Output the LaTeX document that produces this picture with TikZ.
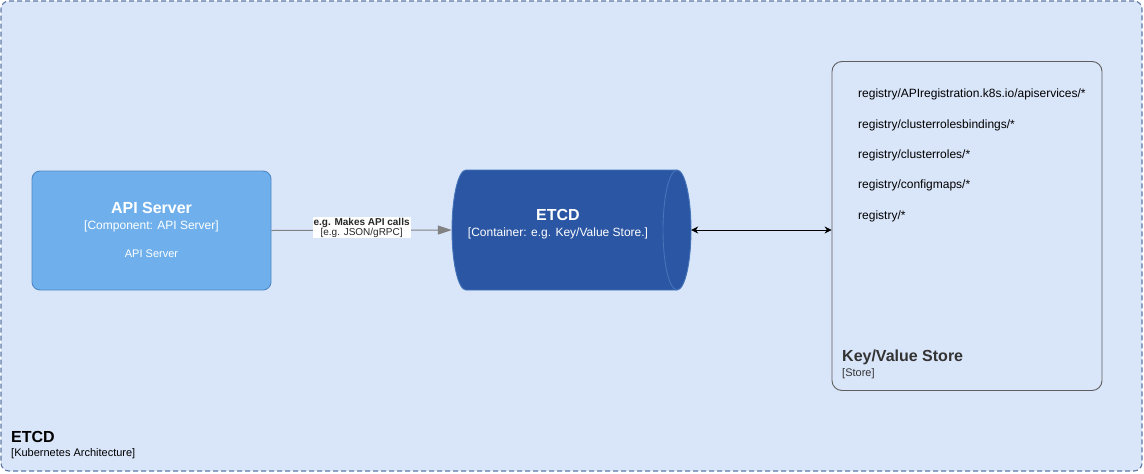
\documentclass[tikz,border=0pt]{standalone}
\usepackage{fontspec}
\setmainfont{Liberation Sans}
\usetikzlibrary{arrows.meta}
\definecolor{areafill}{HTML}{D9E5F9}
\definecolor{arealine}{HTML}{5D78A6}
\definecolor{compfill}{HTML}{6FB0EC}
\definecolor{compline}{HTML}{4D89C7}
\definecolor{contfill}{HTML}{2B56A3}
\definecolor{contline}{HTML}{4474BA}
\definecolor{storeline}{HTML}{5E5E5E}
\definecolor{relline}{HTML}{828282}
\newcommand{\fsz}[1]{\fontsize{#1}{#1}\selectfont}
\begin{document}
\begin{tikzpicture}[x=1pt,y=-1pt,
    txt/.style={inner sep=0pt},
    wtitle/.style={txt,text=white,font=\fsz{16}\bfseries},
    wsub/.style={txt,text=white,font=\fsz{12}}]
    \useasboundingbox (0,0) rectangle (1144,474);
    %% boundary
    \node[draw=arealine,fill=areafill,dash pattern=on 5pt off 3pt,line width=1.1pt,
        rounded corners=8pt,minimum width=1141pt,minimum height=470pt] (etcdarea) at (571.5,236) {};
    \node[txt,anchor=west,font=\fsz{16}\bfseries] (areatitle) at (11,437) {ETCD};
    \node[txt,anchor=west,font=\fsz{11}] (areatype) at (11,454) {[Kubernetes Architecture]};
    %% api server
    \node[draw=compline,fill=compfill,line width=0.9pt,rounded corners=8pt,
        minimum width=239pt,minimum height=119pt] (apisrv) at (151.5,230.5) {};
    \node[wtitle] (apititle) at (151.5,208) {API Server};
    \node[wsub] (apitype) at (151.5,226) {[Component: API Server]};
    \node[txt,text=white,font=\fsz{11}] (apidesc) at (151.5,254) {API Server};
    %% etcd (cylinder)
    \node[minimum width=239pt,minimum height=120pt] (etcd) at (571.5,230) {};
    \draw[contline,fill=contfill,line width=0.9pt] (466,170) -- (677,170)
        arc[start angle=90,end angle=-90,x radius=14pt,y radius=60pt] -- (466,290)
        arc[start angle=270,end angle=90,x radius=14pt,y radius=60pt] -- cycle;
    \draw[contline,line width=0.9pt] (677,170) arc[start angle=90,end angle=270,x radius=14pt,y radius=60pt];
    \node[wtitle] (etcdtitle) at (558,215) {ETCD};
    \node[wsub] (etcdtype) at (558,233) {[Container: e.g. Key/Value Store.]};
    %% key/value store
    \node[draw=storeline,line width=0.9pt,rounded corners=10pt,
        minimum width=270pt,minimum height=329pt] (kv) at (967,226) {};
    \foreach \key [count=\i] in {registry/APIregistration.k8s.io/apiservices/*,
        registry/clusterrolesbindings/*,registry/clusterroles/*,registry/configmaps/*,registry/*}
        \node[txt,anchor=west,font=\fsz{12}] (reg\i) at (858,{64.5+30.3*\i}) {\key};
    \node[txt,anchor=west,text=black!80,font=\fsz{16}\bfseries] (kvtitle) at (842,357) {Key/Value Store};
    \node[txt,anchor=west,text=black!80,font=\fsz{11}] (kvtype) at (842,374) {[Store]};
    %% connect
    \draw[relline,line width=1pt,-{Triangle[length=14pt,width=9pt]}] (apisrv.east) -- (etcd.west)
        node[pos=0.5,fill=white,inner sep=1pt,yshift=2.5pt,align=center,text=black!85,font=\fsz{10}] (rellabel)
        {\textbf{e.g. Makes API calls}\\{[e.g. JSON/gRPC]}};
    \draw[black,line width=0.8pt,{Stealth[length=7pt,width=7pt]}-{Stealth[length=7pt,width=7pt]}]
        (etcd.east) -- (etcd.east -| kv.west);
\end{tikzpicture}
\end{document}
